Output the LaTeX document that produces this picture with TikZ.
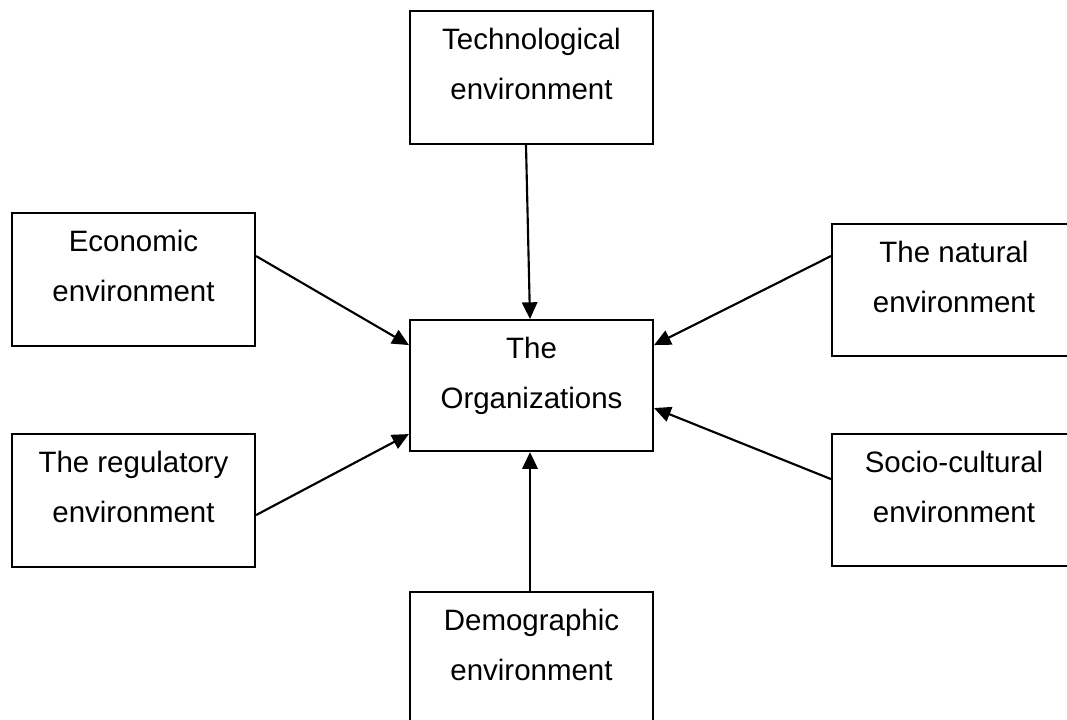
\documentclass[tikz,border=0pt]{standalone}
\usepackage{fontspec}
\setmainfont{Liberation Sans}
\usetikzlibrary{arrows.meta,calc}
\newdimen\dimpx
\dimpx=0.75pt
% two centred lines, first baseline 38.3px below the top edge,
% bottom strut pads the box to its full height (#3 in px)
\newcommand\twolines[3]{\rule{0pt}{38.3\dimpx}#1\\#2\rule[-#3\dimpx]{0pt}{#3\dimpx}}
\begin{document}
\begin{tikzpicture}[x=0.75pt,y=-0.75pt,
  envbox/.style={draw, line width=1.6pt, inner sep=0pt, anchor=north,
    align=center, minimum width=243\dimpx,
    font=\fontsize{22.1pt}{37.875pt}\selectfont},
  link/.style={line width=1.6pt, -{Triangle[length=12.5pt,width=11.5pt]}}]
\useasboundingbox (0,0) rectangle (1067,720);
\clip (0,0) rectangle (1067,720);

% environment boxes
\node[envbox, minimum height=133\dimpx] (tech) at (531.5,10)  {\twolines{Technological}{environment}{44.2}};
\node[envbox, minimum height=133\dimpx] (econ) at (133.5,212) {\twolines{Economic}{environment}{44.2}};
\node[envbox, minimum height=132\dimpx, minimum width=244\dimpx] (nat) at (954,223) {\twolines{The natural}{environment}{43.2}};
\node[envbox, minimum height=131\dimpx] (org)  at (531.5,319) {\twolines{The}{Organizations}{42.2}};
\node[envbox, minimum height=133\dimpx] (reg)  at (133.5,433) {\twolines{The regulatory}{environment}{44.2}};
\node[envbox, minimum height=132\dimpx, minimum width=244\dimpx] (soc) at (954,433) {\twolines{Socio-cultural}{environment}{43.2}};
\node[envbox, minimum height=133\dimpx] (demo) at (531.5,591) {\twolines{Demographic}{environment}{44.2}};

% influences on the organization
\draw[link] ($(tech.south)+(-5.5,0)$) -- ($(org.north)+(-1.5,0)$);
\draw[link] ($(econ.east)+(0,-23.5)$) -- ($(org.west)+(0,-40.5)$);
\draw[link] ($(reg.east)+(0,14.5)$)   -- ($(org.west)+(0,48.5)$);
\draw[link] ($(nat.west)+(0,-34)$)    -- ($(org.east)+(0,-40.5)$);
\draw[link] ($(soc.west)+(0,-21)$)    -- ($(org.east)+(0,22.5)$);
\draw[link] ($(demo.north)+(-1.5,0)$) -- ($(org.south)+(-1.5,0)$);
\end{tikzpicture}
\end{document}
